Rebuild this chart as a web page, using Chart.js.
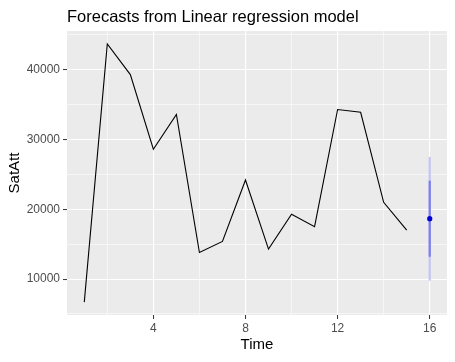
<!DOCTYPE html>
<html>
<head>
<meta charset="utf-8">
<script src="https://cdn.jsdelivr.net/npm/chart.js@4.4.1/dist/chart.umd.min.js"></script>
<style>
  html, body { margin: 0; padding: 0; background: #fff; }
  #wrap { width: 455px; height: 362px; }
</style>
</head>
<body>
<div id="wrap"><canvas id="chart"></canvas></div>
<script>
// observed series
const time = [1, 2, 3, 4, 5, 6, 7, 8, 9, 10, 11, 12, 13, 14, 15];
const satAtt = [6700, 43700, 39300, 28600, 33600, 13800, 15400, 24200, 14300, 19300, 17500, 34300, 33900, 21000, 17000];

// forecast at t = 16
const fcTime = 16;
const fcMean = 18650;
const fc80 = [13200, 24100];
const fc95 = [9770, 27500];

// axis ticks
const xTicks = [4, 8, 12, 16];
const xMinor = [2, 6, 10, 14];
const yTicks = [10000, 20000, 30000, 40000];
const yMinor = [5000, 15000, 25000, 35000, 45000];

const panelBg = {
  id: 'panelBg',
  beforeDraw(chart) {
    const { ctx, chartArea: a } = chart;
    ctx.save();
    ctx.fillStyle = '#EBEBEB';
    ctx.fillRect(a.left, a.top, a.right - a.left, a.bottom - a.top);
    ctx.restore();
  },
  afterDraw(chart) {
    const { ctx, chartArea: a } = chart;
    ctx.save();
    ctx.fillStyle = '#000';
    ctx.font = '16.5px "Liberation Sans", Arial, sans-serif';
    ctx.textBaseline = 'middle';
    ctx.fillText('Forecasts from Linear regression model', a.left, 17);
    ctx.restore();
  }
};

const isMajor = (list, v) => list.includes(v);
const tickFont = { family: '"Liberation Sans", Arial, sans-serif', size: 12 };
const titleFont = { family: '"Liberation Sans", Arial, sans-serif', size: 15 };

new Chart(document.querySelector('#chart'), {
  type: 'line',
  plugins: [panelBg],
  data: {
    datasets: [
      {
        label: 'SatAtt',
        data: time.map((t, i) => ({ x: t, y: satAtt[i] })),
        borderColor: '#000',
        borderWidth: 1.1,
        pointRadius: 0,
        tension: 0,
        order: 3
      },
      {
        label: '95%',
        data: fc95.map(v => ({ x: fcTime, y: v })),
        borderColor: '#C4C4F6',
        borderWidth: 2.2,
        pointRadius: 0,
        order: 2
      },
      {
        label: '80%',
        data: fc80.map(v => ({ x: fcTime, y: v })),
        borderColor: '#7D7DEF',
        borderWidth: 2.2,
        pointRadius: 0,
        order: 1
      },
      {
        label: 'Forecast',
        data: [{ x: fcTime, y: fcMean }],
        showLine: false,
        pointRadius: 2.6,
        pointBackgroundColor: '#0000D0',
        pointBorderColor: '#0000D0',
        pointBorderWidth: 0,
        order: 0
      }
    ]
  },
  options: {
    responsive: true,
    maintainAspectRatio: false,
    animation: false,
    layout: { padding: { top: 31, right: 8, left: 0, bottom: 0 } },
    plugins: {
      legend: { display: false },
      tooltip: { enabled: false }
    },
    scales: {
      x: {
        type: 'linear',
        min: 0.25,
        max: 16.75,
        afterBuildTicks: s => { s.ticks = [...xMinor, ...xTicks].sort((a, b) => a - b).map(v => ({ value: v })); },
        afterFit: s => { s.height = 47; },
        border: { display: false },
        grid: {
          color: '#fff',
          lineWidth: c => isMajor(xTicks, c.tick.value) ? 1.1 : 0.55,
          tickColor: c => isMajor(xTicks, c.tick.value) ? '#333' : 'rgba(0,0,0,0)',
          tickLength: 4,
          tickWidth: 1
        },
        ticks: {
          color: '#4D4D4D',
          font: tickFont,
          padding: 2,
          maxRotation: 0,
          autoSkip: false,
          callback: v => isMajor(xTicks, v) ? v : ''
        },
        title: { display: true, text: 'Time', color: '#000', font: titleFont, padding: { top: 0, bottom: 8 } }
      },
      y: {
        type: 'linear',
        min: 4850,
        max: 45550,
        afterBuildTicks: s => { s.ticks = [...yMinor, ...yTicks].sort((a, b) => a - b).map(v => ({ value: v })); },
        afterFit: s => { s.width = 67; },
        border: { display: false },
        grid: {
          color: '#fff',
          lineWidth: c => isMajor(yTicks, c.tick.value) ? 1.1 : 0.55,
          tickColor: c => isMajor(yTicks, c.tick.value) ? '#333' : 'rgba(0,0,0,0)',
          tickLength: 4,
          tickWidth: 1
        },
        ticks: {
          color: '#4D4D4D',
          font: tickFont,
          padding: 3,
          autoSkip: false,
          callback: v => isMajor(yTicks, v) ? v : ''
        },
        title: { display: true, text: 'SatAtt', color: '#000', font: titleFont, padding: { top: 6, bottom: 0 } }
      }
    }
  }
});
</script>
</body>
</html>
